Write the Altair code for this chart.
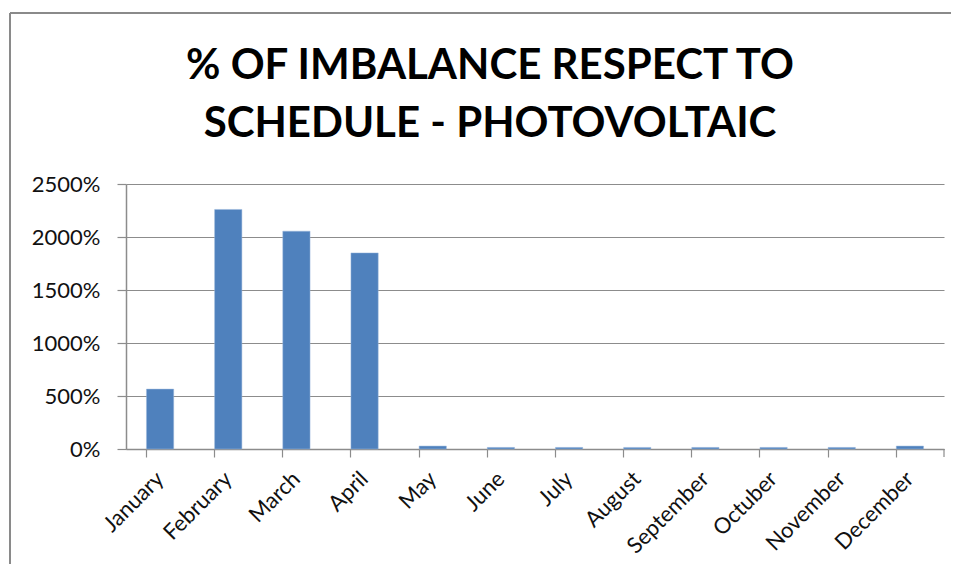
import altair as alt
import pandas as pd

months = ["January", "February", "March", "April", "May", "June", "July",
          "August", "September", "Octuber", "November", "December"]
imbalance_pct = [565, 2260, 2055, 1850, 28, 15, 15, 15, 15, 15, 15, 28]
y_ticks = [0, 500, 1000, 1500, 2000, 2500]

df = pd.DataFrame({"month": months, "pct": imbalance_pct})

W, H = 818, 265
FONT = "Lato"
GRAY = "#8c8c8c"

x_scale = alt.Scale(domain=months, paddingInner=0.6, paddingOuter=0.3)
y_scale = alt.Scale(domain=[0, 2500], nice=False)

y_enc = alt.Y("pct:Q", scale=y_scale, title=None,
              axis=alt.Axis(values=y_ticks, labelExpr="datum.value + '%'",
                            tickSize=9, tickColor=GRAY, tickWidth=1.2,
                            labelPadding=17, labelFont=FONT, labelFontSize=22,
                            labelColor="#111", grid=True, gridColor=GRAY,
                            gridWidth=1.2, domainColor=GRAY, domainWidth=1.5))

bars = alt.Chart(df).mark_bar(color="#4F81BD", stroke="#9db9dc", strokeWidth=0.5).encode(
    x=alt.X("month:N", scale=x_scale, sort=months, title=None,
            axis=alt.Axis(orient="bottom", ticks=False, labelAngle=-45, labelAlign="right",
                          labelBaseline="middle", labelPadding=26,
                          labelFont=FONT, labelFontSize=22, labelColor="#111",
                          domainColor=GRAY, domainWidth=1.5, grid=False)),
    y=y_enc,
)

ticks_layer = alt.Chart(df).mark_bar(opacity=0).encode(
    x=alt.X("month:N", scale=x_scale, sort=months, title=None,
            axis=alt.Axis(orient="bottom", bandPosition=0, labels=False, ticks=True,
                          tickSize=8, tickColor=GRAY, tickWidth=1.2,
                          domain=False, grid=False)),
    y=y_enc,
)

one = pd.DataFrame({"a": [0]})

end_tick = alt.Chart(one).mark_rule(color=GRAY, strokeWidth=1.2).encode(
    x=alt.value(W), y=alt.value(H), y2=alt.value(H + 8)
)

border_top = alt.Chart(one).mark_rule(color="#8a8a8a", strokeWidth=2).encode(
    x=alt.value(10 - 126), x2=alt.value(W + 60), y=alt.value(13 - 184), y2=alt.value(13 - 184)
)
border_left = alt.Chart(one).mark_rule(color="#8a8a8a", strokeWidth=2).encode(
    x=alt.value(10 - 126), x2=alt.value(10 - 126), y=alt.value(13 - 184), y2=alt.value(H + 200)
)

chart = alt.layer(border_top, border_left, bars, ticks_layer, end_tick).resolve_axis(
    x="independent"
).properties(
    width=W, height=H,
    title=alt.TitleParams(
        text=["% OF IMBALANCE RESPECT TO", "SCHEDULE - PHOTOVOLTAIC"],
        font=FONT, fontSize=42, fontWeight="bold", color="#000",
        lineHeight=58, anchor="middle", frame="group", dx=-45, offset=38, dy=172,
    ),
    autosize=alt.AutoSizeParams(type="none"),
    padding={"left": 118, "top": 176, "right": 7, "bottom": 115},
).configure_view(stroke=None)

chart.save("out.html", embed_options={"renderer": "svg", "actions": False})
